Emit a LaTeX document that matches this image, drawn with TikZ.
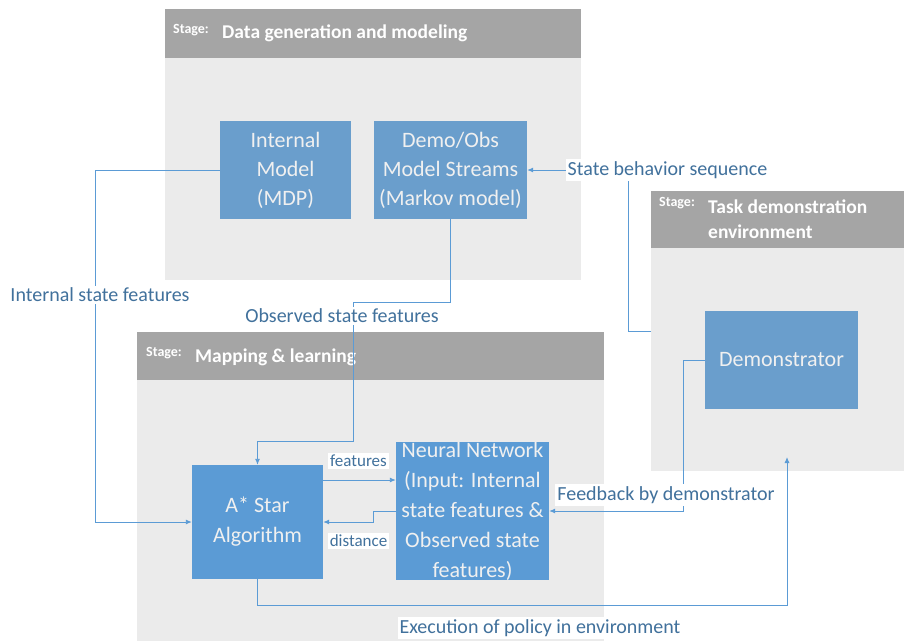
\documentclass[tikz,border=0pt]{standalone}
\usepackage{fontspec}
\setmainfont{Carlito}
\usetikzlibrary{arrows.meta}
\definecolor{hdr}{HTML}{A5A5A5}
\definecolor{bodyg}{HTML}{EBEBEB}
\definecolor{boxA}{HTML}{6A9ECC}
\definecolor{boxB}{HTML}{5B9BD5}
\definecolor{lnc}{HTML}{5B9BD5}
\definecolor{lbl}{HTML}{41719C}
\definecolor{btxt}{HTML}{F0F0F0}
\tikzset{
  hdrbox/.style={rectangle, fill=hdr, draw=none, inner sep=0, anchor=north west},
  bodybox/.style={rectangle, fill=bodyg, draw=none, inner sep=0, anchor=north west},
  stagetag/.style={text=white, font=\bfseries\fontsize{14}{16}\selectfont, anchor=west, inner sep=0},
  stagettl/.style={text=white, font=\bfseries\fontsize{19.5}{25}\selectfont, anchor=west, inner sep=0, align=left},
  boxA/.style={rectangle, fill=boxA, inner sep=0, text=btxt, align=center, font=\fontsize{22}{29}\selectfont},
  boxB/.style={rectangle, fill=boxB, inner sep=0, text=btxt, align=center, font=\fontsize{22}{30}\selectfont},
  lab/.style={fill=white, text=lbl, font=\fontsize{20}{22}\selectfont, inner sep=2pt},
  slab/.style={fill=white, text=lbl, font=\fontsize{17}{18}\selectfont, inner sep=2pt},
  conn/.style={draw=lnc, line width=0.9pt},
  arr/.style={conn, -{Latex[length=6pt,width=5pt]}}
}
\begin{document}
\begin{tikzpicture}[x=1pt,y=-1pt]
\useasboundingbox (0,0) rectangle (904,641);
% stage 1
\node[hdrbox, minimum width=416, minimum height=49] (h1) at (165,9) {};
\node[bodybox, minimum width=416, minimum height=222] (b1) at (165,58) {};
\node[stagetag] (t1a) at (173,30) {Stage:};
\node[stagettl] (t1b) at (222,33) {Data generation and modeling};
% stage 3
\node[hdrbox, minimum width=253, minimum height=57] (h3) at (651,191) {};
\node[bodybox, minimum width=253, minimum height=223] (b3) at (651,248) {};
\node[stagetag] (t3a) at (659,203) {Stage:};
\node[stagettl] (t3b) at (708,219.5) {Task demonstration\\environment};
% stage 2
\node[hdrbox, minimum width=467, minimum height=48] (h2) at (137,332) {};
\node[bodybox, minimum width=467, minimum height=261] (b2) at (137,380) {};
\node[stagetag] (t2a) at (146,353) {Stage:};
\node[stagettl] (t2b) at (195,357) {Mapping \& learning};
% boxes
\node[boxA, minimum width=131, minimum height=98] (im) at (285.5,170) {Internal\\Model\\(MDP)};
\node[boxA, minimum width=153, minimum height=98] (dm) at (450.5,170) {Demo/Obs\\Model Streams\\(Markov model)};
\node[boxA, minimum width=153, minimum height=98] (dem) at (781.5,360) {Demonstrator};
\node[boxB, minimum width=131, minimum height=114] (as) at (257.5,522) {A* Star\\Algorithm};
\node[boxB, minimum width=153, minimum height=136] (nn) at (472.5,511) {Neural Network\\(Input: Internal\\state features \&\\Observed state\\features)};
% coordinates
\coordinate (sb) at (651,331);
\coordinate (ex) at (787,457);
% connectors
\draw[arr] (im.west) -- (95,170) |- (as.west);
\draw[arr] (dm.south) |- (353,302) |- (257.5,441) -- (as.north);
\draw[arr] (sb) -- (628,331) |- (dm.east);
\draw[arr] (dem.west) -| (683,511) -- (nn.east);
\draw[arr] (as.south) |- (787,605) -- (ex);
\draw[arr] ([yshift=42pt]as.east) -- ([yshift=31pt]nn.west);
\draw[arr] (nn.west) -- (373,511) |- (as.east);
% labels
\node[lab] (l1) at (100,295) {Internal state features};
\node[lab] (l2) at (342,316) {Observed state features};
\node[lab] (l3) at (667.5,170) {State behavior sequence};
\node[lab] (l4) at (666,495) {Feedback by demonstrator};
\node[lab] (l5) at (540,628) {Execution of policy in environment};
\node[slab] (l6) at (358.5,461) {features};
\node[slab] (l7) at (358.5,541) {distance};
\end{tikzpicture}
\end{document}
